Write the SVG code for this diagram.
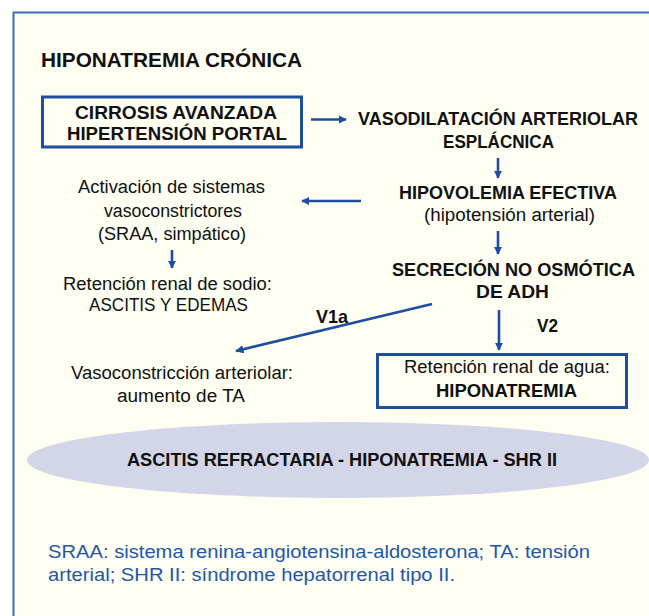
<svg xmlns="http://www.w3.org/2000/svg" width="649" height="616" viewBox="0 0 649 616">
<defs>
<marker id="ah" viewBox="0 0 10 10" refX="9" refY="5" markerWidth="3.2" markerHeight="3.2" orient="auto" markerUnits="strokeWidth">
<path d="M0,0 L10,5 L0,10 z" fill="#1D4F9E"/>
</marker>
<style>
text{font-family:"Liberation Sans",Arial,sans-serif;fill:#111}
.b{font-weight:bold;font-size:19px}
.n{font-size:18px}
.fn{font-size:17.5px;fill:#2456A8}
.con{stroke:#1D4F9E;stroke-width:2.6;fill:none;marker-end:url(#ah)}
.box{fill:none;stroke:#1D4F9E;stroke-width:3}
</style>
</defs>
<rect width="649" height="616" fill="#fff"/>
<rect x="14.5" y="13.5" width="635" height="603" fill="#FEFEF2"/>
<path d="M13.5,616 V12.5 H649" fill="none" stroke="#3C6DB3" stroke-width="2"/>

<text x="41" y="67" class="b" style="font-size:20px" textLength="261" lengthAdjust="spacingAndGlyphs">HIPONATREMIA CRÓNICA</text>

<g id="n1">
<rect class="box" x="42.5" y="97" width="259" height="50"/>
<text x="75" y="119" class="b" textLength="202" lengthAdjust="spacingAndGlyphs">CIRROSIS AVANZADA</text>
<text x="67" y="140" class="b" textLength="220" lengthAdjust="spacingAndGlyphs">HIPERTENSIÓN PORTAL</text>
</g>
<g id="n2">
<text x="358" y="125" class="b" style="font-size:18px" textLength="280" lengthAdjust="spacingAndGlyphs">VASODILATACIÓN ARTERIOLAR</text>
<text x="443" y="148" class="b" textLength="111" lengthAdjust="spacingAndGlyphs">ESPLÁCNICA</text>
</g>
<g id="n3">
<text x="399" y="199" class="b" textLength="218" lengthAdjust="spacingAndGlyphs">HIPOVOLEMIA EFECTIVA</text>
<text x="424" y="221" class="n" textLength="171" lengthAdjust="spacingAndGlyphs">(hipotensión arterial)</text>
</g>
<g id="n4">
<text x="78" y="193" class="n" textLength="187" lengthAdjust="spacingAndGlyphs">Activación de sistemas</text>
<text x="104" y="217" class="n" textLength="138" lengthAdjust="spacingAndGlyphs">vasoconstrictores</text>
<text x="98" y="240" class="n" textLength="148" lengthAdjust="spacingAndGlyphs">(SRAA, simpático)</text>
</g>
<g id="n5">
<text x="63" y="290" class="n" textLength="209" lengthAdjust="spacingAndGlyphs">Retención renal de sodio:</text>
<text x="89" y="311" class="n" textLength="159" lengthAdjust="spacingAndGlyphs">ASCITIS Y EDEMAS</text>
</g>
<g id="n6">
<text x="392" y="276" class="b" textLength="243" lengthAdjust="spacingAndGlyphs">SECRECIÓN NO OSMÓTICA</text>
<text x="476" y="298" class="b" textLength="73" lengthAdjust="spacingAndGlyphs">DE ADH</text>
</g>
<g id="n7">
<text x="71" y="379" class="n" textLength="222" lengthAdjust="spacingAndGlyphs">Vasoconstricción arteriolar:</text>
<text x="117" y="402" class="n" textLength="128" lengthAdjust="spacingAndGlyphs">aumento de TA</text>
</g>
<g id="n8">
<rect class="box" x="377.5" y="354.5" width="249" height="53"/>
<text x="404" y="373" class="n" textLength="206" lengthAdjust="spacingAndGlyphs">Retención renal de agua:</text>
<text x="436" y="397" class="b" textLength="141" lengthAdjust="spacingAndGlyphs">HIPONATREMIA</text>
</g>
<g id="n9">
<ellipse cx="338" cy="460" rx="311" ry="38" fill="#D3D6E8"/>
<text x="127" y="466" class="b" style="font-size:18px" textLength="430" lengthAdjust="spacingAndGlyphs">ASCITIS REFRACTARIA - HIPONATREMIA - SHR II</text>
</g>

<g id="connectors">
<line class="con" x1="311" y1="119.5" x2="346" y2="119.5"/>
<line class="con" x1="498" y1="158" x2="498" y2="178"/>
<line class="con" x1="361" y1="201" x2="302" y2="201"/>
<line class="con" x1="172" y1="250" x2="172" y2="268"/>
<line class="con" x1="498" y1="231" x2="498" y2="254"/>
<line class="con" x1="432" y1="304" x2="236" y2="351"/>
<line class="con" x1="499" y1="310" x2="499" y2="350"/>
<text x="316" y="323" class="b" textLength="32" lengthAdjust="spacingAndGlyphs">V1a</text>
<text x="537" y="332" class="b" textLength="21" lengthAdjust="spacingAndGlyphs">V2</text>
</g>

<text x="48" y="558" class="fn" textLength="542" lengthAdjust="spacingAndGlyphs">SRAA: sistema renina-angiotensina-aldosterona; TA: tensión</text>
<text x="48" y="581" class="fn" textLength="407" lengthAdjust="spacingAndGlyphs">arterial; SHR II: síndrome hepatorrenal tipo II.</text>
</svg>
